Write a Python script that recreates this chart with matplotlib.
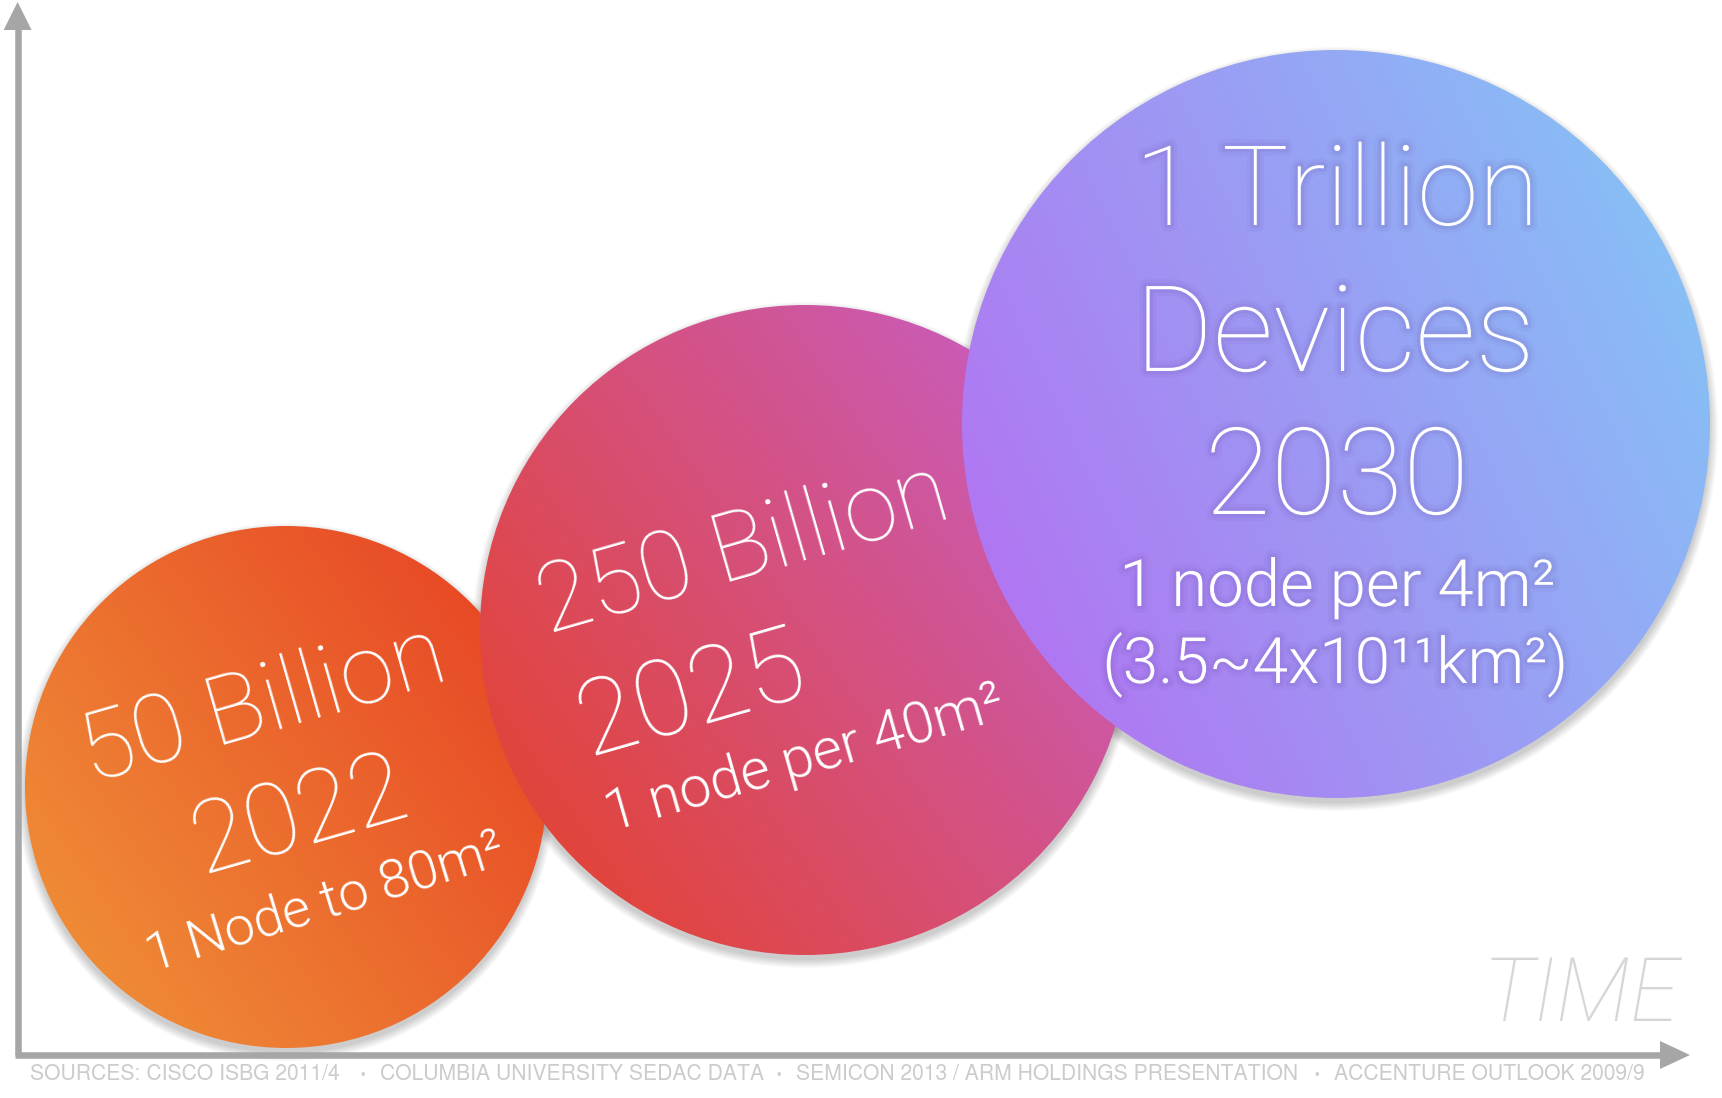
import numpy as np
import matplotlib
matplotlib.use("Agg")
import matplotlib.pyplot as plt
import matplotlib.patheffects as pe
from matplotlib.patches import Circle, Polygon
from matplotlib.colors import to_rgb

# chart content
devices = ["50 Billion", "250 Billion", "1 Trillion\nDevices"]
years = ["2022", "2025", "2030"]
density = ["1 Node to 80m²", "1 node per 40m²", "1 node per 4m²\n(3.5~4x10¹¹km²)"]
sources = ["SOURCES: CISCO ISBG 2011/4", "COLUMBIA UNIVERSITY SEDAC DATA",
           "SEMICON 2013 / ARM HOLDINGS PRESENTATION", "ACCENTURE OUTLOOK 2009/9"]

# layout in pixels of the 1722x1098 picture
W, H = 1722, 1098
centers = [(286, 787), (805, 630), (1336, 424)]
radii = [261, 325, 374]
grad_from = ['#ef8a36', '#e2443b', '#b077f2']
grad_to = ['#e84a26', '#c95cba', '#88bef6']
grad_angle = [35, 35, 25]
source_x = [30, 380, 796, 1334]

fig = plt.figure(figsize=(W / 100, H / 100), dpi=100)
ax = fig.add_axes([0, 0, 1, 1])
ax.set_axis_off()

FONT = ['Roboto', 'DejaVu Sans']


def gradient_circle(cx, cy, r, c0, c1, ang):
    # soft drop shadow
    for k in range(10):
        ax.add_patch(Circle((cx, cy + 5), r + k * 0.9, color='black', alpha=0.018,
                            lw=0, zorder=1))
    n = 300
    xs = np.linspace(cx - r, cx + r, n)
    ys = np.linspace(cy - r, cy + r, n)
    X, Y = np.meshgrid(xs, ys)
    a = np.radians(ang)
    t = ((X - cx) * np.cos(a) - (Y - cy) * np.sin(a)) / r
    t = np.clip((t + 1) / 2, 0, 1)[..., None]
    img = (1 - t) * np.array(to_rgb(c0)) + t * np.array(to_rgb(c1))
    clip = Circle((cx, cy), r, transform=ax.transData, facecolor='none', lw=0)
    ax.add_patch(clip)
    im = ax.imshow(img, extent=(cx - r, cx + r, cy + r, cy - r), origin='upper',
                   interpolation='bilinear', zorder=2)
    im.set_clip_path(clip)


for (cx, cy), r, c0, c1, a in zip(centers, radii, grad_from, grad_to, grad_angle):
    gradient_circle(cx, cy, r, c0, c1, a)

txt = dict(color='white', family=FONT, rotation_mode='anchor',
           ha='center', va='baseline', zorder=5)

# orange bubble
ax.text(271, 731, devices[0], fontsize=70, rotation=16, weight=100, **txt)
ax.text(307, 844, years[0], fontsize=72, rotation=16, weight=100, **txt)
ax.text(330, 918, density[0], fontsize=39, rotation=17, weight=300, **txt)

# red bubble
ax.text(751, 576, devices[1], fontsize=69, rotation=16, weight=100, **txt)
ax.text(700, 724, years[1], fontsize=76, rotation=16, weight=100, **txt)
ax.text(809, 775, density[1], fontsize=41, rotation=16, weight=300, **txt)

# purple bubble, with a faint glow behind the letters
glow = [pe.Stroke(linewidth=10, foreground='#5a3c90', alpha=0.05),
        pe.Stroke(linewidth=5, foreground='#5a3c90', alpha=0.08), pe.Normal()]
big, small = devices[2].split("\n"), density[2].split("\n")
ax.text(1337, 225, big[0], fontsize=80, weight=100, path_effects=glow, **txt)
ax.text(1335, 371, big[1], fontsize=86, weight=100, path_effects=glow, **txt)
ax.text(1337, 514, years[2], fontsize=87, weight=100, path_effects=glow, **txt)
ax.text(1337, 606, small[0], fontsize=47, weight=300, path_effects=glow, **txt)
ax.text(1335, 683, small[1], fontsize=46, weight=300, path_effects=glow, **txt)

# axes arrows
gray = '#a6a6a6'
ax.plot([17.6, 17.6], [28, 1055], color=gray, lw=4.7, solid_capstyle='butt', zorder=3)
ax.plot([15, 1662], [1055, 1055], color=gray, lw=4.7, solid_capstyle='butt', zorder=3)
ax.add_patch(Polygon([(3.6, 30), (17.6, 2), (31.6, 30)], color=gray, lw=0, zorder=3))
ax.add_patch(Polygon([(1660, 1041), (1690, 1055), (1660, 1069)], color=gray, lw=0, zorder=3))

ax.text(1680, 1021, "TIME", fontsize=64, color='#d6d6d6', style='italic',
        weight=100, family=FONT, ha='right', va='baseline')

# sources line under the time axis
for i, (x, s) in enumerate(zip(source_x, sources)):
    ax.text(x, 1074, s, fontsize=15.2, color='#cccccc', family='TeX Gyre Heros',
            ha='left', va='center')
    if i:
        ax.text(x - 17, 1074, "·", fontsize=17, color='#cccccc', weight='bold',
                family='TeX Gyre Heros', ha='center', va='center')

ax.set_xlim(0, W)
ax.set_ylim(H, 0)
fig.savefig("out.png", dpi=100)
